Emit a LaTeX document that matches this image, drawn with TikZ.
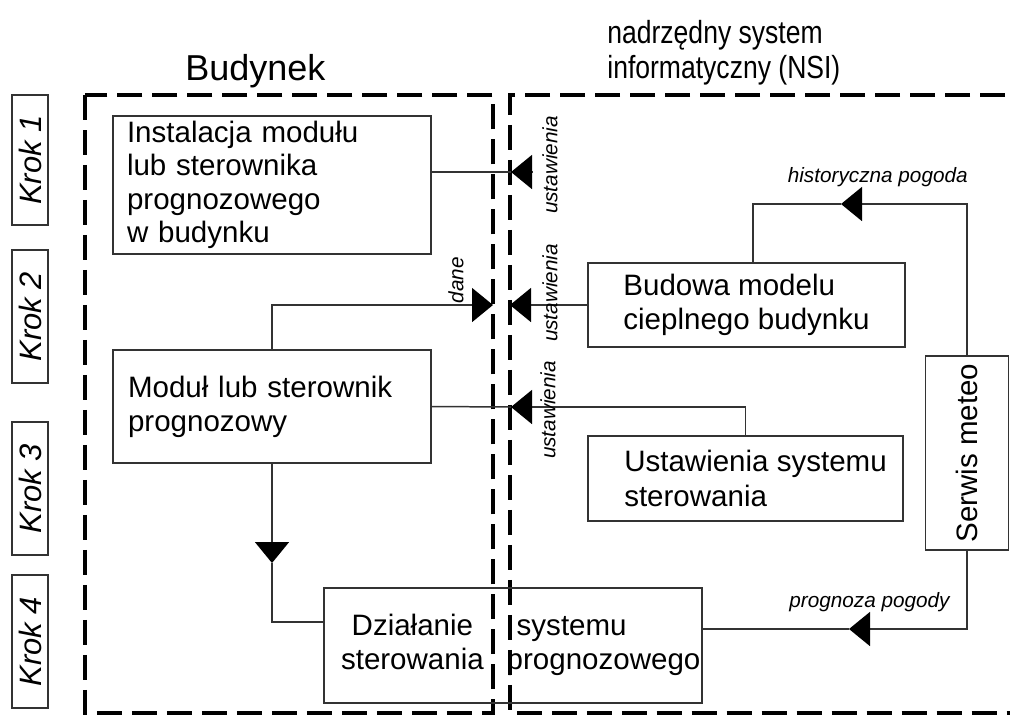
\documentclass[tikz,border=0pt]{standalone}
\usepackage{fontspec}
\setmainfont{Liberation Sans}
\usepackage{graphicx}
\usetikzlibrary{arrows.meta}

\tikzset{
  box/.style={draw=black!80, line width=0.85pt, inner sep=0pt, align=left,
    font=\fontsize{16.8}{19.5}\selectfont},
  krokbox/.style={draw=black!80, line width=0.85pt, rotate=90, inner sep=0pt,
    minimum height=0.72cm, font=\fontsize{17.6}{20}\selectfont\itshape},
  lbl/.style={inner sep=0pt, font=\fontsize{11.8}{14}\selectfont\itshape},
  title/.style={anchor=base west, inner sep=0pt},
  frame/.style={line width=2.3pt, dash pattern=on 0.5cm off 0.2cm},
  wire/.style={draw=black!80, line width=0.85pt},
  arr/.style={-{Triangle[length=0.42cm,width=0.68cm,black]}},
}

\begin{document}
\begin{tikzpicture}[x=0.02cm, y=-0.02cm]
    \useasboundingbox (0,0) rectangle (1010,718);
    % kroki
    \node[krokbox, minimum width=2.6cm] (k1) at (30,160) {Krok 1};
    \node[krokbox, minimum width=2.66cm] (k2) at (30,316.5) {Krok 2};
    \node[krokbox, minimum width=2.66cm] (k3) at (30,488.5) {Krok 3};
    \node[krokbox, minimum width=2.66cm] (k4) at (30,641.5) {Krok 4};
    % ramki
    \draw[frame] (85,95) rectangle (493,713);
    \draw[frame] (1040,95) -| (510,713) -- (1040,713);
    \node[title, font=\fontsize{20.5}{24}\selectfont] (bud) at (185,80) {Budynek};
    \node[title, font=\fontsize{18.2}{20}\selectfont] (nsi1) at (607,43) {\scalebox{0.83}[1]{nadrzędny system}};
    \node[title, font=\fontsize{18.2}{20}\selectfont] (nsi2) at (607,78) {\scalebox{0.83}[1]{informatyczny (NSI)}};
    % bloki
    \node[box, text width=5.8cm, inner xsep=0.28cm, minimum height=2.76cm,
      font=\fontsize{16.8}{19}\selectfont] (inst) at (272,185)
      {Instalacja modułu\\lub sterownika\\prognozowego\\w budynku};
    \node[box, minimum width=6.34cm, minimum height=1.68cm] (budowa) at (746.5,305)
      {Budowa modelu\\cieplnego budynku};
    \node[box, text width=5.76cm, inner xsep=0.3cm, minimum height=2.26cm] (modul) at (272,406.5)
      {Moduł lub sterownik\\prognozowy};
    \node[box, minimum width=6.3cm, minimum height=1.7cm] (ustaw) at (745.5,478.5)
      {\hspace*{0.4cm}Ustawienia systemu\\\hspace*{0.4cm}sterowania};
    \node[box, text width=7.56cm, minimum height=2.3cm] (dzial) at (513,645.5)
      {\begin{tabular}{@{\hspace{0.34cm}}c@{\hspace{0.46cm}}l@{}}Działanie & \hspace*{0.2cm}systemu\\sterowania & prognozowego\end{tabular}};
    \node[box, rotate=90, minimum width=3.88cm, minimum height=1.66cm] (serwis) at (967,453)
      {Serwis meteo};
    % polaczenia
    \coordinate (s1) at (532,172);
    \coordinate (t1) at (511,172);
    \draw[wire, arr] (s1) -- (t1);
    \draw[wire] (t1) -- (inst.east |- t1);
    \coordinate (t2) at (493,305);
    \coordinate (t3) at (510,305);
    \draw[wire, arr] (modul.north) |- (t2);
    \draw[wire, arr] (budowa.west) -- (t3);
    \coordinate (t4) at (511,407);
    \draw[wire, arr] (ustaw.north) |- (t4);
    \draw[wire] (t4) -- (modul.east);
    \coordinate (t5) at (841,204);
    \coordinate (h1) at (753,204);
    \draw[wire, arr] (serwis.east) |- (t5);
    \draw[wire] (t5) -- (h1) -- (h1 |- budowa.north);
    \coordinate (t6) at (849,629);
    \draw[wire, arr] (serwis.west) |- (t6);
    \draw[wire] (t6) -- (t6 -| dzial.east);
    \coordinate (t7) at (272,563);
    \coordinate (d1) at (324,622);
    \draw[wire, arr] (modul.south) -- (t7);
    \draw[wire] (t7) |- (d1);
    % opisy
    \node[lbl, anchor=base east] (lhist) at (968,182) {historyczna pogoda};
    \node[lbl, anchor=base east] (lprog) at (950,607) {prognoza pogody};
    \node[lbl, rotate=90] (lu1) at (550,165) {ustawienia};
    \node[lbl, rotate=90] (lu2) at (550,293) {ustawienia};
    \node[lbl, rotate=90] (lu3) at (548,410) {ustawienia};
    \node[lbl, rotate=90] (ldane) at (456,280) {dane};
\end{tikzpicture}
\end{document}
